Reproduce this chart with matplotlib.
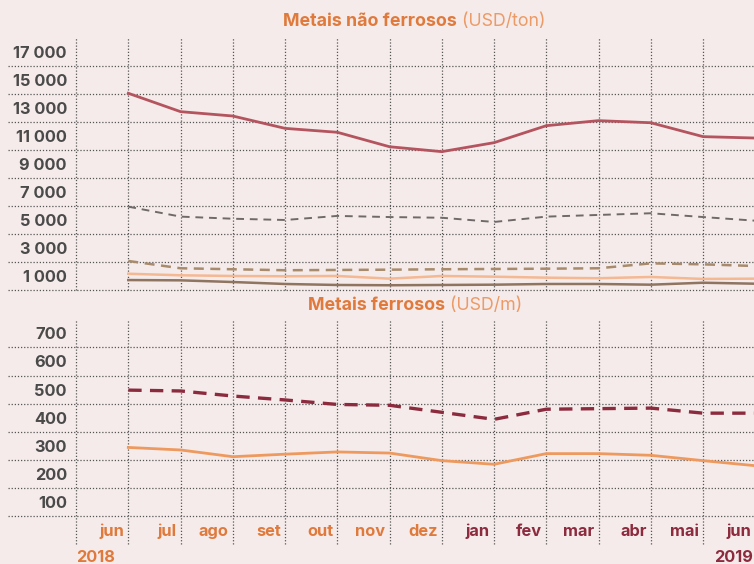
import matplotlib
matplotlib.use("Agg")
import matplotlib.pyplot as plt
import matplotlib.transforms as mtransforms

# ---------------- data ----------------
months = ["jun", "jul", "ago", "set", "out", "nov", "dez",
          "jan", "fev", "mar", "abr", "mai", "jun"]
month_year = [2018] * 7 + [2019] * 6

nf_red = [14040, 12730, 12420, 11540, 11260, 10230, 9880,
          10520, 11730, 12090, 11940, 10950, 10850]
nf_gray_dash = [5960, 5250, 5100, 5010, 5300, 5220, 5170,
                4870, 5250, 5370, 5490, 5220, 4960]
nf_tan_dash = [2090, 1570, 1500, 1430, 1450, 1470, 1500,
               1520, 1540, 1570, 1920, 1850, 1730]
nf_light = [1180, 1070, 1020, 1000, 1020, 830, 1020,
            970, 900, 860, 950, 810, 830]
nf_brown = [730, 710, 590, 450, 380, 360, 380,
            400, 450, 450, 400, 540, 470]

f_dash = [498, 495, 477, 463, 447, 444, 419,
          394, 430, 432, 434, 416, 416]
f_solid = [294, 285, 261, 270, 278, 274, 247,
           234, 272, 272, 266, 247, 229]

top_ticks = [1000, 3000, 5000, 7000, 9000, 11000, 13000, 15000, 17000]
top_grid = [0, 2000, 4000, 6000, 8000, 10000, 12000, 14000, 16000]
bot_ticks = [100, 200, 300, 400, 500, 600, 700]
bot_grid = [50, 150, 250, 350, 450, 550, 650]

# ---------------- style ----------------
BG = "#f5ebea"
GRID = "#555555"
TICK = "#4a4a4a"
ORANGE = "#e07a3c"
ORANGE_L = "#ec9a66"
DARKRED = "#8c2a3e"
FONT = ["Inter", "DejaVu Sans"]
FS = 11.8
FS_T = 12.8
plt.rcParams["font.family"] = FONT

W, H = 754, 564
fig = plt.figure(figsize=(W / 100, H / 100), dpi=100, facecolor=BG)

def px_axes(left, top, right, bottom):
    return fig.add_axes([left / W, 1 - bottom / H, (right - left) / W, (bottom - top) / H])

x0_px, dx_px = 128.3, 52.25
ax_left, ax_right = 76, 760
xmin = (ax_left - x0_px) / dx_px
xmax = (ax_right - x0_px) / dx_px
ext_left = (8 - ax_left) / (ax_right - ax_left)

ax1 = px_axes(ax_left, 37.7, ax_right, 290.3)
ax2 = px_axes(ax_left, 319.3, ax_right, 516)

idx = list(range(len(months)))
for ax in (ax1, ax2):
    ax.set_facecolor(BG)
    ax.set_xlim(xmin, xmax)
    for s in ax.spines.values():
        s.set_visible(False)
    ax.tick_params(axis="both", length=0)
    ax.set_xticks([])

ax1.set_ylim(0, 18000)
ax2.set_ylim(50, 750)

grid_kw = dict(color=GRID, lw=0.9, ls=(0, (1, 1.5)), clip_on=False, zorder=1)
for g in top_grid:
    ax1.axhline(g, xmin=ext_left, xmax=1, **grid_kw)
for g in bot_grid:
    ax2.axhline(g, xmin=ext_left, xmax=1, **grid_kw)
for i in range(-1, len(months)):
    ax1.axvline(i, ymin=0, ymax=1, **grid_kw)
    ax2.axvline(i, ymin=-28 / 196.7, ymax=1, **grid_kw)

# y tick labels
def fmt(v):
    return f"{v:,}".replace(",", " ")

ax1.set_yticks(top_ticks, [fmt(v) for v in top_ticks])
ax2.set_yticks(bot_ticks, [str(v) for v in bot_ticks])
for ax in (ax1, ax2):
    ax.tick_params(axis="y", pad=6.5, labelsize=FS, labelcolor=TICK)
    for lab in ax.get_yticklabels():
        lab.set_fontweight("bold")

# ---------------- lines ----------------
ax1.plot(idx, nf_red, color="#b4545f", lw=2.0, zorder=5)
ax1.plot(idx, nf_gray_dash, color="#6f6a6a", lw=1.4, ls=(0, (4, 3)), zorder=5)
ax1.plot(idx, nf_tan_dash, color="#a88b6c", lw=1.8, ls=(0, (4, 2.6)), zorder=5)
ax1.plot(idx, nf_light, color="#f4b893", lw=1.8, zorder=5)
ax1.plot(idx, nf_brown, color="#8f7460", lw=1.8, zorder=5)

ax2.plot(idx, f_dash, color=DARKRED, lw=2.4, ls=(0, (4, 2.5)), zorder=5)
ax2.plot(idx, f_solid, color="#ee9a5e", lw=2.0, zorder=5)

# ---------------- month labels ----------------
trans = mtransforms.blended_transform_factory(ax2.transData, ax2.transAxes)
for i, (m, y) in enumerate(zip(months, month_year)):
    ax2.text(i - 4 / dx_px, -0.08, m, transform=trans, ha="right", va="center",
             fontsize=FS, fontweight="bold",
             color=ORANGE if y == 2018 else DARKRED, clip_on=False)
ax2.text(-1, -0.212, "2018", transform=trans, ha="left", va="center",
         fontsize=FS, fontweight="bold", color=ORANGE)
ax2.text(11.22, -0.212, "2019", transform=trans, ha="left", va="center",
         fontsize=FS, fontweight="bold", color=DARKRED)

# ---------------- titles ----------------
def title(xpx, ypx, bold, normal):
    t = fig.text(xpx / W, 1 - ypx / H, bold, ha="left", va="center",
                 fontsize=FS_T, fontweight="bold", color=ORANGE)
    fig.canvas.draw()
    bb = t.get_window_extent()
    fig.text(bb.x1 / W, 1 - ypx / H, " " + normal, ha="left", va="center",
             fontsize=FS_T, color=ORANGE_L)

title(283, 22, "Metais não ferrosos", "(USD/ton)")
title(308, 305, "Metais ferrosos", "(USD/m)")

fig.savefig("out.png", dpi=100, facecolor=BG)
